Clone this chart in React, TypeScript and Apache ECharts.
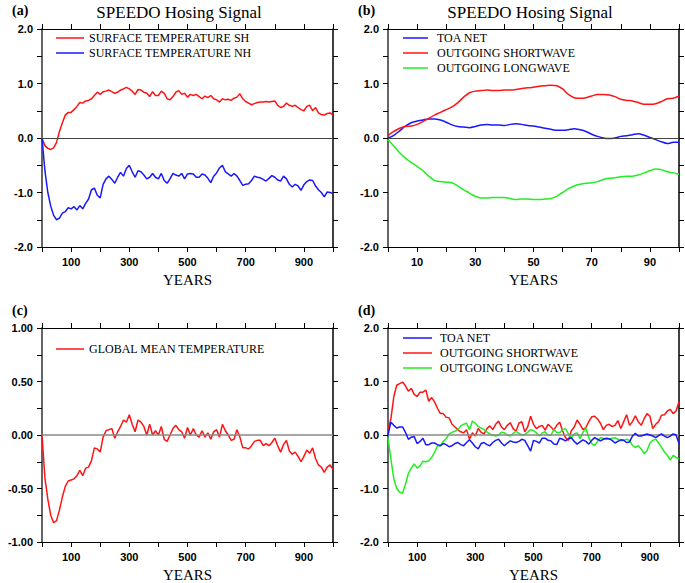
import React, { useEffect, useRef } from "react";
import * as echarts from "echarts";

// ---------- DATA ----------
const YEARS_1000 = [
  0, 10, 20, 30, 40, 50, 60, 70, 80, 90, 100, 110, 120, 130, 140, 150, 160, 170, 180, 190,
  200, 210, 220, 230, 240, 250, 260, 270, 280, 290, 300, 310, 320, 330, 340, 350, 360, 370, 380, 390,
  400, 410, 420, 430, 440, 450, 460, 470, 480, 490, 500, 510, 520, 530, 540, 550, 560, 570, 580, 590,
  600, 610, 620, 630, 640, 650, 660, 670, 680, 690, 700, 710, 720, 730, 740, 750, 760, 770, 780, 790,
  800, 810, 820, 830, 840, 850, 860, 870, 880, 890, 900, 910, 920, 930, 940, 950, 960, 970, 980, 990, 1000,
];
const YEARS_100 = [
  0, 2, 4, 6, 8, 10, 12, 14, 16, 18, 20, 22, 24, 26, 28, 30, 32, 34, 36, 38, 40, 42, 44, 46, 48, 50,
  52, 54, 56, 58, 60, 62, 64, 66, 68, 70, 72, 74, 76, 78, 80, 82, 84, 86, 88, 90, 92, 94, 96, 98, 100,
];

// (a) surface temperature
const SURF_SH = [
  0, -0.14, -0.19, -0.21, -0.18, -0.08, 0.12, 0.28, 0.42, 0.47, 0.47, 0.52, 0.58, 0.65, 0.64, 0.68, 0.69, 0.72, 0.78, 0.84,
  0.8, 0.85, 0.86, 0.88, 0.85, 0.82, 0.84, 0.88, 0.9, 0.93, 0.9, 0.86, 0.8, 0.89, 0.88, 0.84, 0.82, 0.76, 0.85, 0.78,
  0.78, 0.86, 0.82, 0.72, 0.7, 0.76, 0.84, 0.87, 0.8, 0.82, 0.75, 0.8, 0.78, 0.8, 0.76, 0.72, 0.77, 0.74, 0.78, 0.72,
  0.7, 0.66, 0.72, 0.7, 0.71, 0.69, 0.73, 0.75, 0.81, 0.72, 0.67, 0.64, 0.61, 0.63, 0.65, 0.66, 0.66, 0.67, 0.66, 0.67,
  0.68, 0.6, 0.56, 0.58, 0.64, 0.6, 0.58, 0.6, 0.56, 0.52, 0.5, 0.58, 0.6, 0.5, 0.56, 0.46, 0.43, 0.42, 0.45, 0.46, 0.42,
];
const SURF_NH = [
  0, -0.6, -1.0, -1.25, -1.42, -1.5, -1.47, -1.38, -1.35, -1.28, -1.3, -1.26, -1.32, -1.24, -1.3, -1.2, -1.12, -0.95, -0.92, -1.05,
  -1.1, -0.85, -0.75, -0.7, -0.76, -0.83, -0.72, -0.63, -0.7, -0.56, -0.5, -0.62, -0.72, -0.6, -0.62, -0.68, -0.75, -0.72, -0.65, -0.72,
  -0.75, -0.65, -0.78, -0.83, -0.75, -0.65, -0.68, -0.7, -0.65, -0.75, -0.66, -0.65, -0.66, -0.72, -0.72, -0.66, -0.68, -0.74, -0.82, -0.7,
  -0.64, -0.55, -0.5, -0.62, -0.66, -0.7, -0.65, -0.7, -0.78, -0.87, -0.85, -0.84, -0.78, -0.7, -0.72, -0.73, -0.76, -0.79, -0.74, -0.69,
  -0.72, -0.77, -0.79, -0.7, -0.75, -0.85, -0.9, -0.85, -0.88, -0.96, -0.86, -0.8, -0.77, -0.78, -0.88, -0.95, -1.0, -1.08, -0.99, -1.0, -1.02,
];

// (b) first 100 years of TOA fluxes
const TOA_NET_100 = [
  0.0, 0.05, 0.13, 0.22, 0.28, 0.31, 0.33, 0.35, 0.35, 0.33, 0.29, 0.24, 0.21, 0.2, 0.19, 0.21, 0.24, 0.25, 0.24, 0.24,
  0.23, 0.25, 0.26, 0.25, 0.23, 0.22, 0.2, 0.18, 0.16, 0.14, 0.14, 0.15, 0.17, 0.15, 0.12, 0.07, 0.03, 0.0, -0.01, 0.0,
  0.03, 0.04, 0.06, 0.08, 0.05, 0.01, -0.03, -0.07, -0.1, -0.08, -0.08,
];
const SW_100 = [
  0.05, 0.12, 0.18, 0.21, 0.22, 0.25, 0.3, 0.36, 0.42, 0.47, 0.52, 0.57, 0.65, 0.75, 0.83, 0.86, 0.87, 0.88, 0.87, 0.87,
  0.88, 0.88, 0.89, 0.91, 0.92, 0.93, 0.95, 0.96, 0.97, 0.96, 0.9, 0.8, 0.74, 0.73, 0.74, 0.77, 0.8, 0.8, 0.79, 0.76,
  0.71, 0.69, 0.68, 0.65, 0.62, 0.62, 0.63, 0.67, 0.72, 0.73, 0.77,
];
const LW_100 = [
  -0.03, -0.15, -0.27, -0.37, -0.45, -0.52, -0.6, -0.7, -0.78, -0.8, -0.81, -0.82, -0.88, -0.95, -1.01, -1.07, -1.1, -1.1, -1.09, -1.09,
  -1.09, -1.11, -1.13, -1.12, -1.12, -1.13, -1.13, -1.12, -1.11, -1.07, -1.0, -0.93, -0.88, -0.85, -0.83, -0.82, -0.8, -0.76, -0.74, -0.73,
  -0.71, -0.7, -0.7, -0.68, -0.64, -0.6, -0.57, -0.58, -0.62, -0.64, -0.67,
];

// (c) global mean temperature
const GMT = [
  0, -0.4, -0.6, -0.75, -0.82, -0.8, -0.7, -0.58, -0.48, -0.43, -0.42, -0.41, -0.38, -0.33, -0.38, -0.31, -0.3, -0.24, -0.12, -0.13,
  -0.16, -0.02, 0.04, 0.05, 0.06, -0.03, 0.03, 0.08, 0.14, 0.12, 0.19, 0.1, 0.03, 0.14, 0.12, 0.08, 0.0, 0.1, 0.0, 0.04,
  0.0, 0.08, -0.04, -0.06, 0.0, 0.06, 0.09, 0.05, 0.03, -0.03, 0.07, 0.0, 0.06, 0.0, -0.02, 0.04, -0.02, 0.02, -0.04, 0.03,
  0.05, -0.02, 0.1, 0.04, 0.0, -0.05, -0.04, 0.05, -0.02, -0.12, -0.12, -0.13, -0.1, -0.06, -0.05, -0.05, -0.1, -0.08, -0.1, -0.07,
  -0.03, -0.1, -0.16, -0.09, -0.05, -0.15, -0.18, -0.16, -0.2, -0.25, -0.2, -0.14, -0.17, -0.12, -0.22, -0.28, -0.3, -0.35, -0.3, -0.28, -0.32,
];

// (d) 1000 years of TOA fluxes
const TOA_NET_1000 = [
  0.0, 0.24, 0.18, 0.13, 0.15, 0.15, 0.05, -0.08, -0.04, -0.03, -0.16, -0.12, -0.06, -0.18, -0.18, -0.15, -0.15, -0.18, -0.2, -0.16,
  -0.18, -0.22, -0.2, -0.16, -0.14, -0.18, -0.2, -0.14, -0.09, -0.15, -0.22, -0.26, -0.16, -0.14, -0.18, -0.2, -0.14, -0.1, -0.08, -0.15,
  -0.2, -0.15, -0.11, -0.13, -0.14, -0.12, -0.08, -0.1, -0.2, -0.3, -0.1, -0.12, -0.15, -0.06, -0.06, -0.1, -0.11, -0.17, -0.18, -0.06,
  -0.08, -0.11, -0.07, -0.05, -0.12, -0.17, -0.13, -0.09, -0.12, -0.17, -0.1, -0.05, -0.08, -0.11, -0.08, -0.06, -0.07, -0.1, -0.15, -0.12,
  -0.09, -0.1, -0.14, -0.13, -0.02, 0.03, -0.02, -0.02, 0.0, 0.02, 0.0, -0.02, -0.05, -0.01, 0.02, -0.02, -0.05, -0.02, 0.02, 0.0, -0.16,
];
const SW_1000 = [
  0.1, 0.3, 0.72, 0.93, 0.96, 0.99, 0.92, 0.82, 0.87, 0.76, 0.72, 0.8, 0.8, 0.84, 0.63, 0.7, 0.62, 0.5, 0.4, 0.4,
  0.33, 0.32, 0.2, 0.15, 0.1, 0.06, 0.04, 0.1, -0.08, 0.04, -0.02, 0.12, 0.05, 0.02, 0.12, 0.17, 0.1, 0.2, 0.26, 0.15,
  0.1, 0.18, 0.23, 0.12, 0.07, 0.22, 0.25, 0.06, 0.15, 0.35, 0.2, 0.12, 0.16, 0.18, 0.09, 0.2, 0.15, 0.09, 0.18, 0.24,
  0.08, -0.05, -0.1, 0.08, 0.15, 0.28, 0.2, 0.1, 0.14, 0.25, 0.34, 0.35, 0.3, 0.22, 0.1, 0.18, 0.2, 0.16, 0.18, 0.27,
  0.12, 0.25, 0.38, 0.18, 0.25, 0.36, 0.25, 0.18, 0.3, 0.4, 0.35, 0.12, 0.2, 0.25, 0.37, 0.38, 0.45, 0.48, 0.4, 0.45, 0.62,
];
const LW_1000 = [
  -0.05, -0.45, -0.82, -1.0, -1.07, -1.09, -0.92, -0.72, -0.62, -0.54, -0.62, -0.58, -0.49, -0.5, -0.48, -0.42, -0.33, -0.2, -0.2, -0.12,
  -0.07, 0.02, 0.05, 0.07, 0.1, 0.17, 0.2, 0.22, 0.1, 0.26, 0.22, 0.16, 0.13, 0.1, 0.06, 0.02, 0.0, -0.02, 0.0, 0.05,
  0.04, 0.0, -0.02, 0.03, 0.07, 0.03, 0.0, 0.01, 0.05, 0.1, 0.08, 0.04, -0.02, 0.04, 0.06, -0.01, 0.0, 0.1, 0.05, 0.04,
  0.1, 0.12, 0.02, -0.05, 0.02, 0.04, -0.07, 0.05, 0.13, -0.05, -0.16, -0.2, -0.12, -0.05, -0.06, -0.08, -0.08, -0.06, -0.05, -0.08,
  -0.11, -0.1, -0.08, -0.1, -0.2, -0.23, -0.2, -0.26, -0.35, -0.3, -0.15, -0.1, -0.08, -0.15, -0.23, -0.32, -0.38, -0.47, -0.38, -0.42, -0.45,
];

// tick labels
const X_LABELS_1000 = ["100", "300", "500", "700", "900"];
const X_LABELS_100 = ["10", "30", "50", "70", "90"];
const Y_LABELS_2 = ["-2.0", "-1.0", "0.0", "1.0", "2.0"];
const Y_LABELS_1 = ["-1.00", "-0.50", "0.00", "0.50", "1.00"];

const NAMES = {
  sh: "SURFACE TEMPERATURE SH",
  nh: "SURFACE TEMPERATURE NH",
  toa: "TOA NET",
  sw: "OUTGOING SHORTWAVE",
  lw: "OUTGOING LONGWAVE",
  gmt: "GLOBAL MEAN TEMPERATURE",
};
const TITLE = "SPEEDO Hosing Signal";
const PANEL_LABELS = ["(a)", "(b)", "(c)", "(d)"];

// ---------- STYLE ----------
const RED = "#ff1414";
const BLUE = "#1818ff";
const GREEN = "#22ee22";
const SERIF = '"Liberation Serif", "Times New Roman", serif';
const SANS = '"Liberation Sans", Arial, sans-serif';

const GRIDS = [
  { left: 42, top: 29, width: 291, height: 218 },
  { left: 388, top: 29, width: 291, height: 218 },
  { left: 42, top: 328, width: 291, height: 218 },
  { left: 388, top: 328, width: 291, height: 218 },
];

function pairs(xs: number[], ys: number[]) {
  return xs.map((x, i) => [x, ys[i]]);
}

function App() {
  const ref = useRef<HTMLDivElement>(null);

  useEffect(() => {
    if (!ref.current) return;
    const chart = echarts.init(ref.current, undefined, { renderer: "svg" });

    const xCfg = [
      { max: 1000, interval: 100, labels: X_LABELS_1000 },
      { max: 100, interval: 10, labels: X_LABELS_100 },
      { max: 1000, interval: 100, labels: X_LABELS_1000 },
      { max: 1000, interval: 100, labels: X_LABELS_1000 },
    ];
    const yCfg = [
      { min: -2, max: 2, interval: 0.5, labels: Y_LABELS_2, dec: 1 },
      { min: -2, max: 2, interval: 0.5, labels: Y_LABELS_2, dec: 1 },
      { min: -1, max: 1, interval: 0.25, labels: Y_LABELS_1, dec: 2 },
      { min: -2, max: 2, interval: 0.5, labels: Y_LABELS_2, dec: 1 },
    ];

    const tick = { show: true, inside: false, length: 5, lineStyle: { color: "#000", width: 1 } };
    const labelStyle = { fontFamily: SANS, fontWeight: "bold" as const, fontSize: 11, color: "#000" };

    const xAxis: any[] = [];
    const yAxis: any[] = [];
    GRIDS.forEach((_, g) => {
      const xc = xCfg[g];
      const yc = yCfg[g];
      xAxis.push({
        type: "value",
        gridIndex: g,
        position: "bottom",
        min: 0,
        max: xc.max,
        interval: xc.interval,
        axisLine: { show: true, onZero: false, lineStyle: { color: "#000", width: 1 } },
        axisTick: tick,
        splitLine: { show: false },
        axisLabel: {
          ...labelStyle,
          margin: 9,
          showMinLabel: true,
          showMaxLabel: true,
          formatter: (v: number) => (xc.labels.includes(String(v)) ? String(v) : ""),
        },
        name: "YEARS",
        nameLocation: "middle",
        nameGap: 25,
        nameTextStyle: { fontFamily: SERIF, fontSize: 15, color: "#000" },
      });
      xAxis.push({
        type: "value",
        gridIndex: g,
        position: "top",
        min: 0,
        max: xc.max,
        interval: xc.interval,
        axisLine: { show: true, onZero: false, lineStyle: { color: "#000", width: 1 } },
        axisTick: tick,
        splitLine: { show: false },
        axisLabel: { show: false },
      });
      yAxis.push({
        type: "value",
        gridIndex: g,
        position: "left",
        min: yc.min,
        max: yc.max,
        interval: yc.interval,
        axisLine: { show: true, onZero: false, lineStyle: { color: "#666", width: 2 } },
        axisTick: tick,
        splitLine: { show: false },
        axisLabel: {
          ...labelStyle,
          margin: 9,
          showMinLabel: true,
          showMaxLabel: true,
          formatter: (v: number) => {
            const s = (Math.abs(v) < 1e-9 ? 0 : v).toFixed(yc.dec);
            return yc.labels.includes(s) ? s : "";
          },
        },
      });
      yAxis.push({
        type: "value",
        gridIndex: g,
        position: "right",
        min: yc.min,
        max: yc.max,
        interval: yc.interval,
        axisLine: { show: true, onZero: false, lineStyle: { color: "#000", width: 1.5 } },
        axisTick: tick,
        splitLine: { show: false },
        axisLabel: { show: false },
      });
    });

    const zeroLine = (color: string, width: number) => ({
      silent: true,
      symbol: ["none", "none"],
      label: { show: false },
      lineStyle: { color, width, type: "solid" },
      data: [{ yAxis: 0 }],
    });

    const line = (name: string, g: number, xs: number[], ys: number[], color: string, extra: any = {}) => ({
      type: "line",
      name,
      xAxisIndex: g * 2,
      yAxisIndex: g * 2,
      data: pairs(xs, ys),
      showSymbol: false,
      symbol: "none",
      lineStyle: { color, width: 1.5 },
      itemStyle: { color },
      color,
      z: 3,
      ...extra,
    });

    const series = [
      line(NAMES.sh, 0, YEARS_1000, SURF_SH, RED, { markLine: zeroLine("#444", 1) }),
      line(NAMES.nh, 0, YEARS_1000, SURF_NH, BLUE),
      line(NAMES.toa, 1, YEARS_100, TOA_NET_100, BLUE, { smooth: 0.3, markLine: zeroLine("#444", 1) }),
      line(NAMES.sw, 1, YEARS_100, SW_100, RED, { smooth: 0.3 }),
      line(NAMES.lw, 1, YEARS_100, LW_100, GREEN, { smooth: 0.3 }),
      line(NAMES.gmt, 2, YEARS_1000, GMT, RED, { markLine: zeroLine("#888", 1.5) }),
      line(NAMES.toa, 3, YEARS_1000, TOA_NET_1000, BLUE, { markLine: zeroLine("#888", 1.5), z: 5 }),
      line(NAMES.sw, 3, YEARS_1000, SW_1000, RED),
      line(NAMES.lw, 3, YEARS_1000, LW_1000, GREEN, { z: 4 }),
    ];

    const legendText = { fontFamily: SERIF, fontSize: 12, color: "#000" };
    const legendBase = {
      orient: "vertical",
      icon: "rect",
      itemWidth: 28,
      itemHeight: 1.5,
      itemGap: 3,
      padding: 0,
      selectedMode: false,
      textStyle: legendText,
    };

    const legend = [
      { ...legendBase, left: 56, top: 32, data: [NAMES.sh, NAMES.nh] },
      { ...legendBase, left: 403, top: 32, itemWidth: 25, data: [NAMES.toa, NAMES.sw, NAMES.lw],
        textStyle: { ...legendText, padding: [0, 0, 0, 4] } },
      { ...legendBase, left: 56, top: 343, data: [NAMES.gmt] },
      { ...legendBase, left: 403, top: 332, itemWidth: 29, data: [NAMES.toa, NAMES.sw, NAMES.lw],
        textStyle: { ...legendText, padding: [0, 0, 0, 3] } },
    ];

    const txt = (text: string, x: number, y: number, font: string, align: string) => ({
      type: "text",
      x,
      y,
      silent: true,
      style: {
        text,
        font,
        fill: "#000",
        textAlign: align,
        align,
        textVerticalAlign: "middle",
        verticalAlign: "middle",
      },
    });

    const graphic = [
      txt(TITLE, 179, 12, `17px ${SERIF}`, "center"),
      txt(TITLE, 530, 12, `17px ${SERIF}`, "center"),
      txt(PANEL_LABELS[0], 12, 10, `bold 14px ${SERIF}`, "left"),
      txt(PANEL_LABELS[1], 358, 10, `bold 14px ${SERIF}`, "left"),
      txt(PANEL_LABELS[2], 12, 310, `bold 14px ${SERIF}`, "left"),
      txt(PANEL_LABELS[3], 358, 310, `bold 14px ${SERIF}`, "left"),
    ];

    chart.setOption({
      animation: false,
      backgroundColor: "#fff",
      grid: GRIDS.map((g) => ({ ...g, containLabel: false })),
      xAxis,
      yAxis,
      legend,
      series,
      graphic,
    });

    return () => chart.dispose();
  }, []);

  return (
    <div
      ref={ref}
      style={{ position: "absolute", left: 0, top: 0, width: 685, height: 583, background: "#fff" }}
    />
  );
}

export default App;
